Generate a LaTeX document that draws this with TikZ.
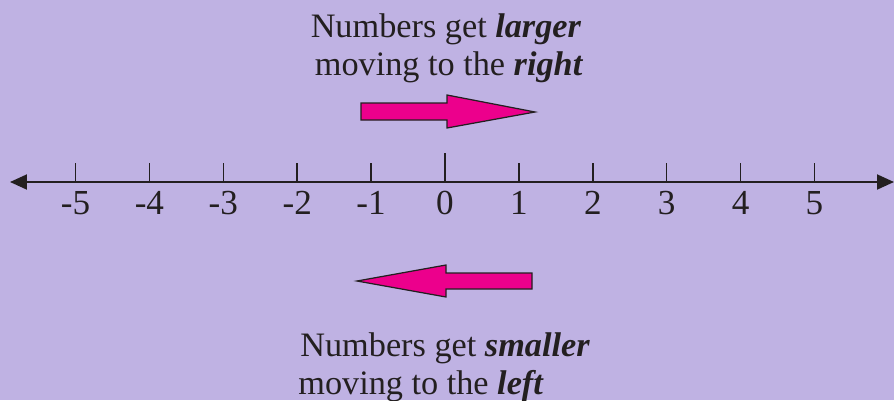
\documentclass[tikz,border=0pt]{standalone}
\usepackage{fontspec}
\setmainfont{Liberation Serif}
\usetikzlibrary{arrows.meta, calc}
\definecolor{lavender}{RGB}{191,178,227}
\definecolor{hotpink}{RGB}{236,0,140}
\definecolor{inkgray}{RGB}{35,31,32}

\begin{document}
\begin{tikzpicture}[x=0.02cm, y=-0.02cm,
            axis/.style={line width=1.1pt, inkgray, {Triangle[length=0.34cm, width=0.3cm]}-{Triangle[length=0.34cm, width=0.3cm]}},
            tickmark/.style={line width=0.8pt, inkgray},
            numlabel/.style={anchor=base, inner sep=0pt, text=inkgray, font=\fontsize{20}{22}\selectfont},
            caption/.style={anchor=base, inner sep=0pt, text=inkgray, font=\fontsize{19.5}{22}\selectfont},
            bigarrow/.style={fill=hotpink, draw=inkgray, line width=0.7pt, line join=miter}
        ]
            \fill[lavender] (0,0) rectangle (894,400);
            \useasboundingbox (0,0) rectangle (894,400);

            % captions
            \node[caption] (top1) at (446,37) {Numbers get \textbf{\textit{larger}}};
            \node[caption] (top2) at (449,75) {moving to the \textbf{\textit{right}}};
            \node[caption, anchor=base west] (bot1) at (300,356) {Numbers get \textbf{\textit{smaller}}};
            \node[caption, anchor=base west] (bot2) at (298,394) {moving to the \textbf{\textit{left}}};

            % pink arrows
            \draw[bigarrow] (361,103) -- (447,103) -- (447,95) -- (535,112) -- (447,128) -- (447,120) -- (361,120) -- cycle;
            \draw[bigarrow] (532,273) -- (446,273) -- (446,265) -- (357,281) -- (446,297) -- (446,289) -- (532,289) -- cycle;

            % number line
            \coordinate (lend) at (10,182);
            \coordinate (rend) at (894,182);
            \draw[axis] (lend) -- (rend);

            \foreach \n in {-5,...,5} {
                \pgfmathsetmacro{\h}{\n==0 ? 29 : 19}
                \coordinate (t\n) at ({445+73.9*\n},182);
                \draw[tickmark] (t\n) -- ++(0,-\h);
                \node[numlabel] (l\n) at ($(t\n)+(0,32)$) {\n};
            }
        \end{tikzpicture}
\end{document}
